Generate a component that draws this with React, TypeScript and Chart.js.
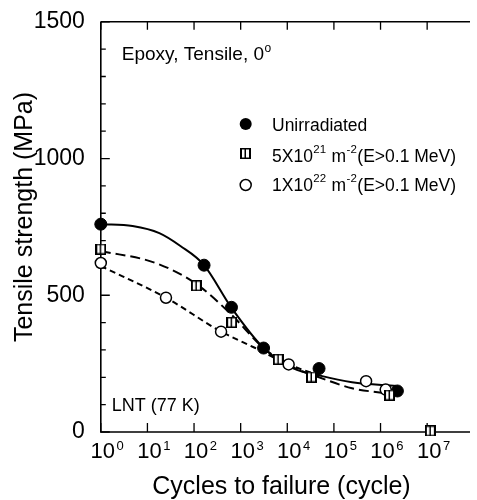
import React, { useEffect, useRef } from "react";
import { Chart, registerables } from "chart.js";

Chart.register(...registerables);

const FONT = "'Liberation Sans', Arial, Helvetica, sans-serif";

// ---- data ----
const unirrCycles = [1, 164, 635, 3100, 48000, 2300000];
const unirrStrength = [760, 610, 456, 307, 232, 150];

const irr5e21Cycles = [1, 112, 640, 6400, 33000, 1560000, 11700000];
const irr5e21Strength = [669, 535, 401, 266, 201, 135, 4];

const irr1e22Cycles = [1, 25, 380, 10700, 490000, 1290000];
const irr1e22Strength = [618, 491, 367, 247, 186, 155];

// fitted curves
const fitUnirrCycles = [1, 4.8, 18, 51, 162, 631, 3200, 13500, 48000, 245000, 2200000];
const fitUnirrStrength = [760, 753, 727, 680, 611, 455, 305, 233, 207, 182, 168];

const fit5e21Cycles = [1, 15, 112, 600, 3200, 13500, 48000, 245000, 1230000];
const fit5e21Strength = [662, 618, 541, 433, 305, 236, 200, 160, 142];

const fit1e22Cycles = [1, 25, 380, 1950, 10700, 48000];
const fit1e22Strength = [607, 491, 367, 309, 247, 207];

const xTickExponents = [0, 1, 2, 3, 4, 5, 6, 7];
const yMajorStep = 500;
const yMinorStep = 100;

type Part = { t: string; sup?: boolean };
const legendLabels: Part[][] = [
  [{ t: "Unirradiated" }],
  [{ t: "5X10" }, { t: "21", sup: true }, { t: " m" }, { t: "-2", sup: true }, { t: "(E>0.1 MeV)" }],
  [{ t: "1X10" }, { t: "22", sup: true }, { t: " m" }, { t: "-2", sup: true }, { t: "(E>0.1 MeV)" }],
];
const annotationTitle: Part[] = [{ t: "Epoxy, Tensile, 0" }, { t: "o", sup: true }];
const annotationTemp = "LNT (77 K)";
const xTitle = "Cycles to failure (cycle)";
const yTitle = "Tensile strength (MPa)";

const zip = (xs: number[], ys: number[]) => xs.map((x, i) => ({ x, y: ys[i] }));

function makeSquareSymbol(size: number): HTMLCanvasElement {
  const c = document.createElement("canvas");
  c.width = size;
  c.height = size;
  const g = c.getContext("2d")!;
  g.fillStyle = "#000";
  g.fillRect(0, 0, size, size);
  g.fillStyle = "#fff";
  g.fillRect(2, 1.5, size - 4, size - 3);
  g.fillStyle = "#000";
  g.fillRect(Math.floor(size / 2) - 0.5, 0, 1.5, size);
  return c;
}

function drawRich(
  ctx: CanvasRenderingContext2D,
  x: number,
  y: number,
  parts: Part[],
  size: number,
  supSize: number,
  raise: number
) {
  let cx = x;
  ctx.textAlign = "left";
  ctx.textBaseline = "alphabetic";
  for (const p of parts) {
    if (p.sup) {
      ctx.font = `${supSize}px ${FONT}`;
      ctx.fillText(p.t, cx + 0.5, y - raise);
      cx += ctx.measureText(p.t).width + 1;
    } else {
      ctx.font = `${size}px ${FONT}`;
      ctx.fillText(p.t, cx, y);
      cx += ctx.measureText(p.t).width;
    }
  }
}

export default function App() {
  const ref = useRef<HTMLCanvasElement | null>(null);

  useEffect(() => {
    if (!ref.current) return;
    const square = makeSquareSymbol(11);

    const decorations = {
      id: "decorations",
      beforeDatasetsDraw(chart: any) {
        const ctx: CanvasRenderingContext2D = chart.ctx;
        const { left, right, top, bottom } = chart.chartArea;
        const xs = chart.scales.x;
        const ys = chart.scales.y;
        ctx.save();
        ctx.strokeStyle = "#000";
        ctx.lineWidth = 1.6;
        ctx.beginPath();
        ctx.moveTo(left, top);
        ctx.lineTo(right, top);
        ctx.moveTo(left, top);
        ctx.lineTo(left, bottom);
        ctx.lineTo(right, bottom);
        ctx.stroke();
        ctx.lineWidth = 1.3;
        ctx.beginPath();
        for (let v = ys.min; v <= ys.max; v += yMinorStep) {
          const py = ys.getPixelForValue(v);
          const len = v % yMajorStep === 0 ? 9 : 5;
          ctx.moveTo(left, py);
          ctx.lineTo(left + len, py);
        }
        for (const e of xTickExponents) {
          const px = xs.getPixelForValue(Math.pow(10, e));
          ctx.moveTo(px, bottom);
          ctx.lineTo(px, bottom - 9);
          ctx.moveTo(px, top);
          ctx.lineTo(px, top + 8);
        }
        ctx.stroke();
        ctx.restore();
      },
      afterDraw(chart: any) {
        const ctx: CanvasRenderingContext2D = chart.ctx;
        const { left, bottom } = chart.chartArea;
        const xs = chart.scales.x;
        ctx.save();
        ctx.fillStyle = "#000";
        // x tick labels 10^n
        for (const e of xTickExponents) {
          const px = xs.getPixelForValue(Math.pow(10, e));
          ctx.font = `22px ${FONT}`;
          ctx.textAlign = "center";
          ctx.textBaseline = "alphabetic";
          const w = ctx.measureText("10").width;
          ctx.fillText("10", px + 2, bottom + 26);
          ctx.font = `13px ${FONT}`;
          ctx.textAlign = "left";
          ctx.fillText(String(e), px + 2 + w / 2 + 1.5, bottom + 18);
        }
        // axis titles
        ctx.font = `25px ${FONT}`;
        ctx.textAlign = "center";
        ctx.textBaseline = "alphabetic";
        ctx.fillText(xTitle, 281.5, bottom + 62);
        ctx.save();
        ctx.translate(32, 217);
        ctx.rotate(-Math.PI / 2);
        ctx.fillText(yTitle, 0, 0);
        ctx.restore();
        // annotations
        drawRich(ctx, left + 21, 59.5, annotationTitle, 19, 12, 8);
        ctx.font = `18px ${FONT}`;
        ctx.textAlign = "left";
        ctx.fillText(annotationTemp, left + 11, 410.5);
        // legend
        const lx = 245.7;
        const ly = [124, 153, 185];
        const tb = [130.5, 161.5, 190.5];
        ctx.fillStyle = "#000";
        ctx.beginPath();
        ctx.arc(lx, ly[0], 6, 0, Math.PI * 2);
        ctx.fill();
        ctx.drawImage(square, Math.round(lx - square.width / 2), Math.round(ly[1] - square.height / 2));
        ctx.beginPath();
        ctx.arc(lx, ly[2], 5.5, 0, Math.PI * 2);
        ctx.fillStyle = "#fff";
        ctx.fill();
        ctx.strokeStyle = "#000";
        ctx.lineWidth = 1.5;
        ctx.stroke();
        ctx.fillStyle = "#000";
        legendLabels.forEach((parts, i) => drawRich(ctx, 272, tb[i], parts, 17.5, 11.5, 9));
        ctx.restore();
      },
    };

    const chart = new Chart(ref.current, {
      type: "scatter",
      data: {
        datasets: [
          {
            label: "Unirradiated",
            data: zip(unirrCycles, unirrStrength),
            pointStyle: "circle",
            pointRadius: 6,
            backgroundColor: "#000",
            borderColor: "#000",
            borderWidth: 1,
            showLine: false,
            clip: false,
            order: 1,
          } as any,
          {
            label: "5X10^21",
            data: zip(irr5e21Cycles, irr5e21Strength),
            pointStyle: square as any,
            pointRadius: 6,
            showLine: false,
            clip: false,
            order: 0,
          } as any,
          {
            label: "1X10^22",
            data: zip(irr1e22Cycles, irr1e22Strength),
            pointStyle: "circle",
            pointRadius: 5.5,
            backgroundColor: "#fff",
            borderColor: "#000",
            borderWidth: 1.5,
            showLine: false,
            clip: false,
            order: 2,
          } as any,
          {
            label: "fit unirradiated",
            data: zip(fitUnirrCycles, fitUnirrStrength),
            showLine: true,
            pointRadius: 0,
            borderColor: "#000",
            borderWidth: 2,
            cubicInterpolationMode: "monotone",
            clip: false,
            order: 5,
          } as any,
          {
            label: "fit 5e21",
            data: zip(fit5e21Cycles, fit5e21Strength),
            showLine: true,
            pointRadius: 0,
            borderColor: "#000",
            borderWidth: 2,
            borderDash: [10, 5],
            cubicInterpolationMode: "monotone",
            clip: false,
            order: 5,
          } as any,
          {
            label: "fit 1e22",
            data: zip(fit1e22Cycles, fit1e22Strength),
            showLine: true,
            pointRadius: 0,
            borderColor: "#000",
            borderWidth: 2,
            borderDash: [6, 4],
            cubicInterpolationMode: "monotone",
            clip: false,
            order: 5,
          } as any,
        ],
      },
      options: {
        responsive: false,
        animation: false,
        layout: { padding: { top: 20, left: 0, right: 0, bottom: 0 } },
        plugins: { legend: { display: false }, tooltip: { enabled: false } },
        scales: {
          x: {
            type: "logarithmic",
            min: 1,
            max: 8.3e7,
            grid: { display: false },
            border: { display: false },
            ticks: { display: false },
            afterFit: (s: any) => {
              s.height = 68;
            },
          },
          y: {
            min: 0,
            max: 1500,
            grid: { display: false },
            border: { display: false },
            ticks: {
              stepSize: 500,
              padding: 8,
              color: "#000",
              font: { family: FONT, size: 23 },
              callback: (v: any) => String(v),
            },
            afterFit: (s: any) => {
              s.width = 100.8;
            },
          },
        },
      },
      plugins: [decorations],
    });
    return () => chart.destroy();
  }, []);

  return (
    <div style={{ position: "absolute", left: 0, top: 0, width: 477, height: 500, background: "#fff" }}>
      <canvas ref={ref} width={477} height={500} style={{ display: "block" }} />
    </div>
  );
}
